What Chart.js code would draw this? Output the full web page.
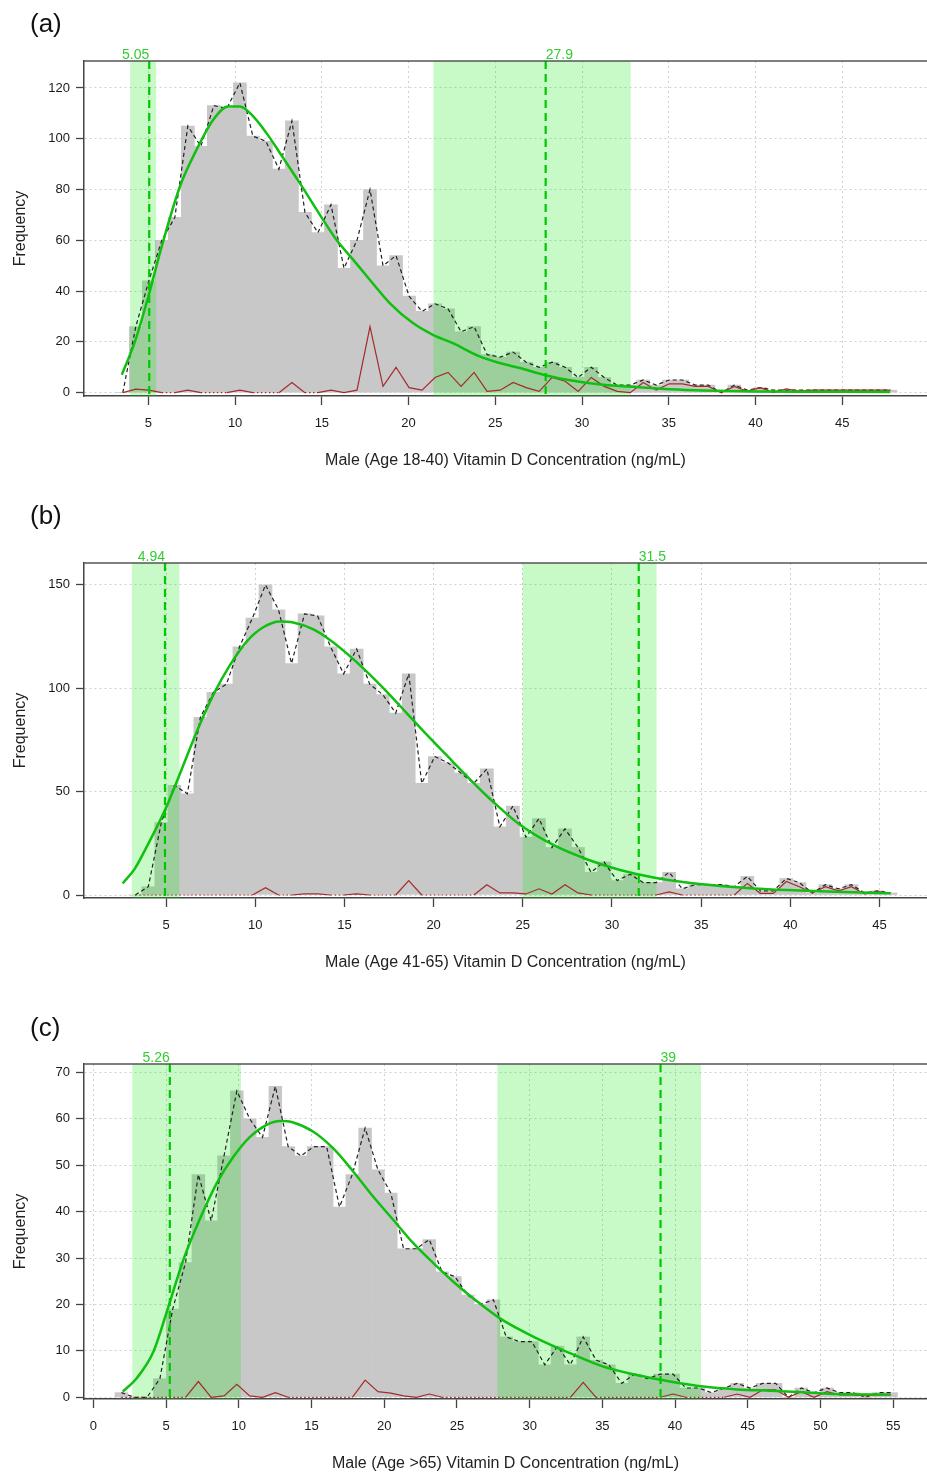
<!DOCTYPE html>
<html>
<head>
<meta charset="utf-8">
<title>Male vitamin D concentration histograms</title>
<script src="https://cdn.jsdelivr.net/npm/chart.js@4.4.1/dist/chart.umd.min.js"></script>
<style>
  body { margin: 0; background: #fff; }
  #page { position: relative; width: 927px; height: 1475px; overflow: hidden; font-family: "Liberation Sans", Arial, sans-serif; }
  #page canvas { position: absolute; left: 0; }
  .tag { position: absolute; left: 30px; font-size: 26px; line-height: 26px; color: #111; }
</style>
</head>
<body>
<div id="page">
  <canvas id="chartA" width="927" height="472" style="top:0px"></canvas>
  <canvas id="chartB" width="927" height="472" style="top:502px"></canvas>
  <canvas id="chartC" width="927" height="472" style="top:1003px"></canvas>
  <div class="tag" style="top:10px">(a)</div>
  <div class="tag" style="top:502px">(b)</div>
  <div class="tag" style="top:1014px">(c)</div>
</div>
<script>
// (a) Male, age 18-40
const binStartA = 3.15;
const binWidthA = 0.75;
const freqA = [0, 26, 44, 60, 69, 105, 97, 113, 112, 122, 101, 99, 88, 107, 71, 63, 74, 49, 60, 80, 50,
  54, 38, 32, 35, 33, 24, 26, 15, 14, 16, 12, 10, 12, 10, 6, 10, 6, 3, 3, 5, 3, 5, 5, 3, 3, 0, 3, 1, 2,
  1, 1, 1, 1, 1, 1, 1, 1, 1, 1];
const otherA = [0, 1.4, 1, 0, 0, 1, 0, 0, 0, 1, 0, 0, 0, 4, 0, 0, 1, 0, 1, 26, 2.5, 10, 2, 1, 6, 8, 2.5,
  8, 0.5, 1, 4, 2, 0.5, 6, 4.5, 0.5, 6, 2.5, 0.5, 0, 4, 1, 3.5, 3.5, 2.5, 2.5, 0, 2.5, 0.5, 2, 0, 1.5,
  0.5, 1, 1, 1, 1, 1, 1, 1];
const fitXA = [3.47, 4.23, 5.0, 5.77, 6.82, 7.78, 8.74, 9.6, 10.27, 11.04, 11.81, 12.58, 13.73, 14.88,
  15.84, 16.8, 17.76, 18.91, 20.25, 21.4, 22.55, 24.09, 25.24, 26.42, 27.77, 29.3, 31.22, 33.14, 35.07,
  36.99, 39.87, 43.7, 47.75];
const fitYA = [7.1, 20.2, 37.9, 57.6, 81.2, 95.7, 107.5, 112.7, 112.7, 108.8, 102.2, 94.4, 82.5, 70.1,
  60.2, 52.4, 44.5, 35.3, 27.4, 22.8, 19.5, 14.3, 11.7, 9.7, 7.1, 4.9, 3.1, 2.2, 1.4, 0.9, 0.5, 0.4, 0.3];
const bandsA = [[3.95, 5.45], [21.43, 32.8]];
const cutsA = [5.05, 27.9];
const xTicksA = [5, 10, 15, 20, 25, 30, 35, 40, 45];
const yTicksA = [0, 20, 40, 60, 80, 100, 120];

// (b) Male, age 41-65
const binStartB = 2.91;
const binWidthB = 0.73;
const freqB = [0, 4, 35, 53, 49, 86, 98, 102, 120, 134, 150, 138, 112, 136, 135, 120, 107, 119, 102, 97,
  88, 107, 54, 67, 64, 59, 54, 61, 33, 43, 28, 37, 23, 32, 23, 11, 16, 7, 10, 6, 6, 11, 3, 5, 5, 5, 4,
  9, 2, 2, 8, 6, 1, 5, 3, 5, 1, 2, 1];
const otherB = [0, 0, 0, 0, 0, 0, 0, 0, 0, 0, 3.5, 0, 0, 0.5, 0.5, 0, 0, 0.5, 0, 0, 0, 7, 0, 0, 0, 0, 0,
  5, 1, 1, 0.5, 3, 0.5, 5, 1, 0, 0, 0, 0, 0, 0, 1.5, 0, 0, 0, 0, 0, 5.6, 0.8, 0.8, 6.5, 4, 1, 4, 2, 4,
  0.5, 1.6, 0.8];
const fitXB = [2.57, 3.26, 3.92, 4.94, 5.79, 6.72, 7.65, 8.59, 9.52, 10.45, 11.39, 12.13, 13.26, 14.19,
  15.13, 16.25, 17.37, 18.5, 19.4, 20.74, 21.86, 22.97, 23.73, 24.84, 26.71, 28.58, 30.45, 32.32, 34.19,
  36.06, 37.93, 39.8, 41.67, 43.54, 45.6];
const fitYB = [5.6, 12.9, 23.4, 41.1, 58.9, 79, 96.8, 111.3, 122.6, 129.5, 132.3, 131.8, 128.5, 123.4,
  116.9, 108.1, 98.4, 87.9, 79.5, 67.5, 57.5, 48, 42, 34, 24.2, 17.3, 12.1, 8.5, 6.0, 4.4, 3.2, 2.4, 1.8,
  1.3, 0.8];
const bandsB = [[3.08, 5.75], [24.99, 32.5]];
const cutsB = [4.94, 31.5];
const xTicksB = [5, 10, 15, 20, 25, 30, 35, 40, 45];
const yTicksB = [0, 50, 100, 150];

// (c) Male, age >65
const binStartC = 1.49;
const binWidthC = 0.882;
const freqC = [1, 0, 0, 4, 19, 29, 48, 38, 52, 66, 60, 56, 67, 54, 52, 54, 54, 41, 48, 58, 49, 44, 32, 32,
  34, 27, 26, 22, 20, 21, 13, 12, 12, 7, 11, 7, 13, 8, 7, 3, 5, 4, 5, 5, 2, 2, 1, 2, 3, 2, 3, 3, 0, 2, 1,
  2, 1, 1, 0, 1, 1];
const otherC = [0, 0, 0, 0, 0, 0, 3.4, 0, 0.3, 2.8, 0.3, 0, 1, 0, 0, 0, 0, 0, 0, 3.7, 1.2, 0.9, 0.3, 0,
  0.7, 0, 0, 0, 0, 0, 0, 0, 0, 0, 0, 0, 3.2, 0, 0, 0, 0, 0, 0, 0.7, 0, 0, 0, 0, 0.7, 0, 1.6, 1.6, 0, 1.2,
  0, 1.2, 0.5, 0.5, 0.3, 0.5, 0.5];
const fitXC = [2.02, 2.98, 4.13, 5.16, 6.19, 7.34, 8.48, 9.63, 10.77, 11.92, 12.84, 13.75, 15.13, 16.5,
  17.88, 19.25, 20.63, 22.0, 23.38, 24.75, 26.13, 27.96, 30.49, 32.78, 35.07, 37.36, 39.65, 41.94, 44.23,
  46.52, 48.81, 51.1, 54.77];
const fitYC = [1.2, 4.1, 9.8, 19.5, 29.6, 38.5, 46.1, 51.8, 56.1, 58.7, 59.5, 59.2, 57.2, 53.6, 48.6,
  43.2, 38.2, 33.2, 28.9, 24.9, 21.3, 17.0, 12.7, 9.5, 6.6, 4.8, 3.4, 2.3, 1.7, 1.4, 1.1, 0.7, 0.6];
const bandsC = [[2.68, 10.15], [27.78, 41.78]];
const cutsC = [5.26, 39];
const xTicksC = [0, 5, 10, 15, 20, 25, 30, 35, 40, 45, 50, 55];
const yTicksC = [0, 10, 20, 30, 40, 50, 60, 70];

const family = "'Liberation Sans', Arial, sans-serif";
Chart.defaults.font.family = family;

// green shaded intervals go over the bars, cut-off lines and labels on top
function cutoffPlugin(bands, cuts) {
  return {
    id: "cutoffs",
    afterDatasetDraw(chart, args) {
      if (args.index !== 0) return;
      const { ctx, chartArea: area, scales } = chart;
      ctx.save();
      ctx.beginPath();
      ctx.rect(area.left, area.top, area.width, area.height);
      ctx.clip();
      ctx.fillStyle = "rgba(0, 230, 0, 0.22)";
      bands.forEach(([lo, hi]) => {
        const x1 = scales.x.getPixelForValue(lo);
        const x2 = scales.x.getPixelForValue(hi);
        ctx.fillRect(x1, area.top, x2 - x1, area.height);
      });
      ctx.restore();
    },
    afterDatasetsDraw(chart) {
      const { ctx, chartArea: area, scales } = chart;
      ctx.save();
      cuts.forEach((c, i) => {
        const x = scales.x.getPixelForValue(c);
        ctx.strokeStyle = "#00c800";
        ctx.lineWidth = 2.2;
        ctx.setLineDash([8, 5]);
        ctx.beginPath();
        ctx.moveTo(x, area.top);
        ctx.lineTo(x, area.bottom);
        ctx.stroke();
        ctx.fillStyle = "#33cc33";
        ctx.font = "14px " + family;
        ctx.textAlign = i === 0 ? "right" : "left";
        ctx.textBaseline = "alphabetic";
        ctx.fillText(String(c), x, area.top - 2);
      });
      ctx.setLineDash([]);
      ctx.strokeStyle = "#555";
      ctx.lineWidth = 1.5;
      ctx.beginPath();
      ctx.moveTo(area.left, area.top);
      ctx.lineTo(area.right, area.top);
      ctx.stroke();
      ctx.restore();
    },
  };
}

function zeroDots(ctx) {
  return ctx.p0.parsed.y === 0 && ctx.p1.parsed.y === 0 ? [1.5, 2.5] : undefined;
}

function drawPanel(id, p) {
  const centers = p.freq.map((_, i) => p.binStart + (i + 0.5) * p.binWidth);
  const bars = centers.map((x, i) => ({ x: x, y: p.freq[i] }));
  const other = centers.map((x, i) => ({ x: x, y: p.other[i] }));
  const fit = p.fitX.map((x, i) => ({ x: x, y: p.fitY[i] }));

  return new Chart(document.getElementById(id), {
    type: "bar",
    data: {
      datasets: [
        {
          type: "bar",
          data: bars,
          backgroundColor: "#c8c8c8",
          borderWidth: 0,
          barPercentage: 1,
          categoryPercentage: 1,
          order: 10,
        },
        {
          type: "line",
          data: bars,
          borderColor: "#222",
          borderWidth: 1.2,
          borderDash: [4, 3],
          pointRadius: 0,
          tension: 0,
          order: 4,
        },
        {
          type: "line",
          data: other,
          borderColor: "#a52a2a",
          borderWidth: 1.2,
          pointRadius: 0,
          tension: 0,
          segment: { borderDash: zeroDots },
          order: 3,
        },
        {
          type: "line",
          data: fit,
          borderColor: "#10c010",
          borderWidth: 2.5,
          pointRadius: 0,
          cubicInterpolationMode: "monotone",
          order: 1,
        },
      ],
    },
    options: {
      responsive: false,
      animation: false,
      devicePixelRatio: 1,
      layout: { padding: { top: 61, right: 0, bottom: 0, left: 0 } },
      plugins: { legend: { display: false }, tooltip: { enabled: false } },
      scales: {
        x: {
          type: "linear",
          min: p.xRange[0],
          max: p.xRange[1],
          offset: false,
          afterBuildTicks: (s) => { s.ticks = p.xTicks.map((v) => ({ value: v })); },
          afterFit: (s) => { s.height = 76; },
          ticks: { color: "#1a1a1a", font: { size: 13 }, padding: 11, maxRotation: 0, autoSkip: false },
          grid: {
            offset: false, color: "#d0d0d0", lineWidth: 1,
            tickLength: 9, tickColor: "#444", tickWidth: 1.3,
          },
          border: { display: true, color: "#444", width: 1.5, dash: [2, 3] },
          title: {
            display: true,
            text: p.xTitle,
            color: "#222",
            font: { size: 16 },
            padding: { top: 0, bottom: 2 },
          },
        },
        y: {
          type: "linear",
          min: p.yRange[0],
          max: p.yRange[1],
          afterBuildTicks: (s) => { s.ticks = p.yTicks.map((v) => ({ value: v })); },
          afterFit: (s) => { s.width = 84; },
          ticks: { color: "#1a1a1a", font: { size: 13 }, padding: 6 },
          grid: {
            offset: false, color: "#d0d0d0", lineWidth: 1,
            tickLength: 8, tickColor: "#444", tickWidth: 1.3,
          },
          border: { display: true, color: "#444", width: 1.5, dash: [2, 3] },
          title: {
            display: true,
            text: "Frequency",
            color: "#222",
            font: { size: 16 },
            padding: { top: 11, bottom: 0 },
          },
        },
      },
    },
    plugins: [cutoffPlugin(p.bands, p.cuts)],
  });
}

drawPanel("chartA", {
  binStart: binStartA, binWidth: binWidthA, freq: freqA, other: otherA,
  fitX: fitXA, fitY: fitYA, bands: bandsA, cuts: cutsA,
  xTicks: xTicksA, yTicks: yTicksA, xRange: [1.29, 49.88], yRange: [-1.3, 130.6],
  xTitle: "Male (Age 18-40) Vitamin D Concentration (ng/mL)",
});

drawPanel("chartB", {
  binStart: binStartB, binWidth: binWidthB, freq: freqB, other: otherB,
  fitX: fitXB, fitY: fitYB, bands: bandsB, cuts: cutsB,
  xTicks: xTicksB, yTicks: yTicksB, xRange: [0.4, 47.66], yRange: [-1.45, 160.6],
  xTitle: "Male (Age 41-65) Vitamin D Concentration (ng/mL)",
});

drawPanel("chartC", {
  binStart: binStartC, binWidth: binWidthC, freq: freqC, other: otherC,
  fitX: fitXC, fitY: fitYC, bands: bandsC, cuts: cutsC,
  xTicks: xTicksC, yTicks: yTicksC, xRange: [-0.64, 57.32], yRange: [-0.37, 71.8],
  xTitle: "Male (Age >65) Vitamin D Concentration (ng/mL)",
});
</script>
</body>
</html>
